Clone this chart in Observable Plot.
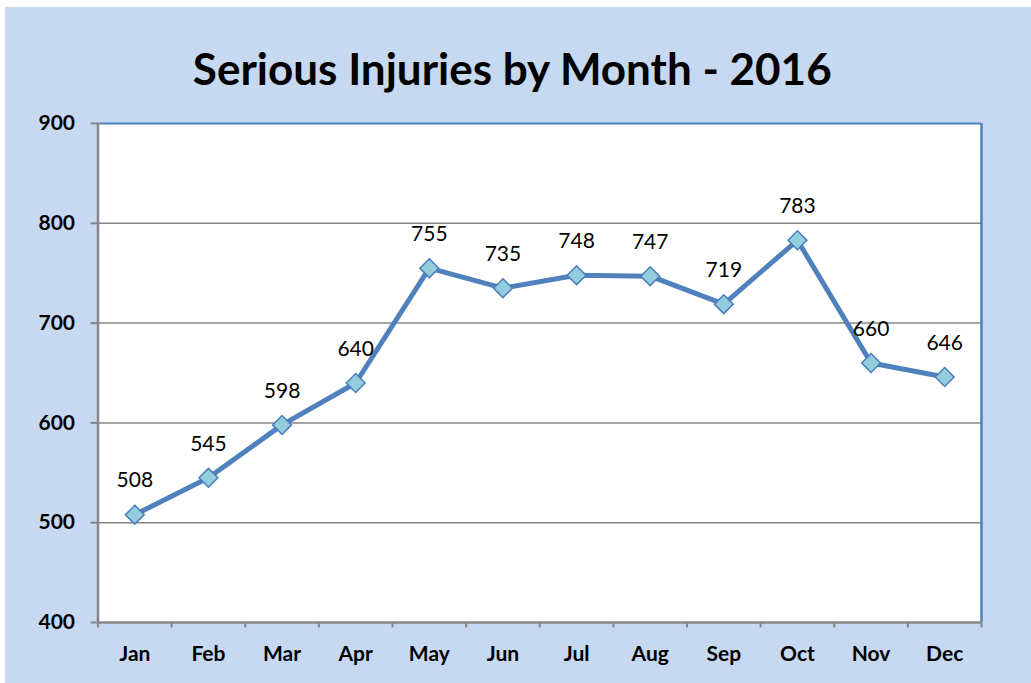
<!DOCTYPE html>
<html>
<head>
<meta charset="utf-8">
<script src="https://cdn.jsdelivr.net/npm/d3@7"></script>
<script src="https://cdn.jsdelivr.net/npm/@observablehq/plot@0.6"></script>
<style>
  html, body { margin: 0; padding: 0; background: #ffffff; }
  #wrap { padding: 7px 0 0 5px; }
  svg { display: block; }
</style>
</head>
<body>
<div id="wrap"></div>
<script>
const titleText = "Serious Injuries by Month - 2016";
const months = ["Jan","Feb","Mar","Apr","May","Jun","Jul","Aug","Sep","Oct","Nov","Dec"];
const injuries = [508, 545, 598, 640, 755, 735, 748, 747, 719, 783, 660, 646];
const yTicks = [400, 500, 600, 700, 800, 900];

const data = months.map((m, i) => ({month: m, value: injuries[i]}));

const W = 1026, H = 676;
const mL = 92.5, mR = 50, mT = 116, mB = 61;
const halfBand = (W - mL - mR) / months.length / 2;
const blue = "#4f81bd";
const gray = "#868686";
const font = "Lato, 'Open Sans', sans-serif";

const chart = Plot.plot({
  width: W,
  height: H,
  marginLeft: mL,
  marginRight: mR,
  marginTop: mT,
  marginBottom: mB,
  style: {background: "#c6d9f1", fontFamily: font, color: "#000"},
  x: {type: "band", domain: months, padding: 0, round: false},
  y: {domain: [400, 900]},
  marks: [
    Plot.frame({fill: "white", stroke: "none"}),
    Plot.ruleY(yTicks.filter(d => d > 400 && d < 900), {stroke: gray, strokeWidth: 1.5}),
    Plot.ruleY([900], {stroke: blue, strokeWidth: 2}),
    Plot.ruleX(["Dec"], {dx: halfBand, stroke: blue, strokeWidth: 2.5}),
    Plot.ruleY([400], {stroke: gray, strokeWidth: 2.5}),
    Plot.ruleX(["Jan"], {dx: -halfBand, stroke: gray, strokeWidth: 2.5}),
    // x tick marks at category boundaries
    Plot.ruleX(months, {x: d => d, dx: -halfBand, y1: 400, y2: 394.5, stroke: gray, strokeWidth: 2}),
    Plot.ruleX(["Dec"], {x: d => d, dx: halfBand, y1: 400, y2: 394.5, stroke: gray, strokeWidth: 2}),
    Plot.axisX({tickSize: 0, tickPadding: 24, fontSize: 21, fontWeight: "bold", label: null}),
    Plot.axisY({ticks: yTicks, tickSize: 7, tickPadding: 16, stroke: gray, strokeWidth: 2, fontSize: 21, fontWeight: "bold", label: null}),
    Plot.line(data, {x: "month", y: "value", stroke: blue, strokeWidth: 5, strokeLinejoin: "round"}),
    Plot.dot(data, {x: "month", y: "value", symbol: "diamond2", r: 8.5, fill: "#93cddd", stroke: "#4a7ebb", strokeWidth: 1.5}),
    Plot.text(data, {x: "month", y: "value", text: d => String(d.value), dy: -34, fontSize: 21, fill: "#000"}),
    Plot.text([titleText], {frameAnchor: "top", dx: -27.5, dy: -53, fontSize: 44, fontWeight: "bold", fill: "#000", lineAnchor: "middle"})
  ]
});

document.getElementById("wrap").appendChild(chart);
</script>
</body>
</html>
